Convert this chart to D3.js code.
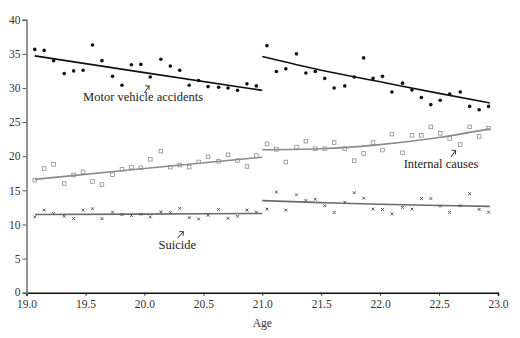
<!DOCTYPE html>
<html><head><meta charset="utf-8">
<script src="https://cdn.jsdelivr.net/npm/d3@7"></script>
<style>body{margin:0;background:#fff}svg{display:block}</style>
</head><body>
<script>
// ---- data ----
const ages1 = [19.07,19.15,19.23,19.32,19.40,19.48,19.56,19.64,19.73,19.81,19.89,19.97,20.05,20.14,20.22,20.30,20.38,20.46,20.54,20.63,20.71,20.79,20.87,20.95];
const ages2 = [21.04,21.12,21.20,21.29,21.37,21.45,21.53,21.61,21.70,21.78,21.86,21.94,22.02,22.10,22.19,22.27,22.35,22.43,22.51,22.59,22.68,22.76,22.84,22.92];

const motor1 = [35.65,35.5,34.0,32.1,32.5,32.6,36.3,34.0,31.7,30.4,33.4,33.45,31.6,34.2,33.2,32.6,30.4,31.1,30.2,30.1,30.0,29.65,30.6,30.3];
const motor2 = [36.2,32.4,32.8,35.0,32.2,32.4,31.4,30.0,30.3,31.6,34.4,31.4,31.7,29.4,30.7,29.7,28.6,27.55,28.2,29.1,29.4,27.3,26.8,27.3];
const internal1 = [16.5,18.2,18.8,16.0,17.25,17.7,16.3,15.85,17.3,18.1,18.4,18.3,19.55,20.75,18.4,18.7,18.4,19.15,19.9,19.25,20.2,19.35,18.5,20.1];
const internal2 = [21.8,21.0,19.15,21.35,22.2,21.1,21.1,22.0,21.1,19.35,20.4,22.0,20.9,23.25,20.5,23.05,23.05,24.3,23.35,22.6,21.7,24.3,22.9,24.1];
const suicide1 = [11.1,12.1,11.6,11.2,10.85,12.1,12.3,10.85,11.8,11.45,11.3,11.5,11.1,11.85,11.75,12.35,11.0,10.8,11.35,12.2,10.9,11.2,12.1,11.8];
const suicide2 = [12.25,14.75,12.1,14.35,13.5,13.7,12.75,11.75,13.25,14.65,13.85,12.25,12.2,11.55,12.5,12.25,13.8,13.8,12.7,11.75,12.75,14.5,12.2,11.8];

// fitted curves, read at a few ages
const fitAges1 = [19.07, 20.0, 21.0];
const motorFit1 = [34.7, 32.25, 29.65];
const internalFit1 = [16.6, 18.2, 19.85];
const suicideFit1 = [11.45, 11.52, 11.6];
const fitAges2 = [21.0, 21.5, 22.0, 22.5, 22.93];
const motorFit2 = [34.6, 32.6, 30.9, 29.2, 27.8];
const internalFit2 = [20.95, 21.1, 21.7, 22.74, 24.0];
const suicideFit2 = [13.5, 13.2, 12.95, 12.78, 12.65];

const xTicks = [19.0,19.5,20.0,20.5,21.0,21.5,22.0,22.5,23.0];
const yTicks = [0,5,10,15,20,25,30,35,40];

const labels = [
  {text:"Motor vehicle accidents", x:19.48, y:28.15, ax:[20.00,29.3], ah:[20.04,30.3]},
  {text:"Internal causes", x:22.20, y:18.3, ax:[22.60,19.85], ah:[22.64,20.85]},
  {text:"Suicide", x:20.12, y:6.45, ax:[20.28,7.95], ah:[20.33,8.95]}
];

// ---- drawing ----
const W = 520, H = 338;
const svg = d3.select("body").append("svg").attr("width", W).attr("height", H);
const x = d3.scaleLinear().domain([19,23]).range([26.5,498]);
const y = d3.scaleLinear().domain([0,40]).range([292.7,19.7]);
const font = "'Liberation Serif', 'DejaVu Serif', serif";

// axes
const xAxis = svg.append("g").attr("transform",`translate(0,${y(0)})`)
  .call(d3.axisBottom(x).tickValues(xTicks).tickFormat(d3.format(".1f")).tickSize(3).tickPadding(4));
xAxis.select(".domain").attr("stroke","#111").attr("stroke-width",1.6);
xAxis.selectAll(".tick line").attr("stroke","#222");
xAxis.selectAll("text").attr("font-family",font).attr("font-size",11.5).attr("fill","#333");

const yAxis = svg.append("g").attr("transform",`translate(${x(19)},0)`)
  .call(d3.axisLeft(y).tickValues(yTicks).tickSize(4).tickPadding(2));
yAxis.select(".domain").attr("stroke","#777").attr("stroke-width",1.6);
yAxis.selectAll(".tick line").attr("stroke","#555");
yAxis.selectAll("text").attr("font-family",font).attr("font-size",11.5).attr("fill","#333");
yAxis.selectAll(".tick").filter(d=>d===0).select("text").attr("dy","0.2em");

svg.append("text").attr("x",x(21)).attr("y",327).attr("text-anchor","middle")
  .attr("font-family",font).attr("font-size",11.5).attr("fill","#333").text("Age");

const line = d3.line().x(d=>x(d[0])).y(d=>y(d[1])).curve(d3.curveMonotoneX);
const zip = (a,b)=>a.map((v,i)=>[v,b[i]]);

// fit lines
const fits = [
  [fitAges1, internalFit1, "#8a8a8a"], [fitAges2, internalFit2, "#8a8a8a"],
  [fitAges1, suicideFit1, "#6a6a6a"], [fitAges2, suicideFit2, "#6a6a6a"],
  [fitAges1, motorFit1, "#111"], [fitAges2, motorFit2, "#111"]
];
fits.forEach(([a,v,c])=>{
  svg.append("path").attr("d", line(zip(a,v))).attr("fill","none").attr("stroke",c).attr("stroke-width",1.6);
});

// internal causes: open squares
[[ages1,internal1],[ages2,internal2]].forEach(([a,v])=>{
  svg.append("g").selectAll("rect").data(zip(a,v)).join("rect")
    .attr("x",d=>x(d[0])-1.8).attr("y",d=>y(d[1])-1.8).attr("width",3.6).attr("height",3.6)
    .attr("fill","none").attr("stroke","#8f8f8f").attr("stroke-width",0.8);
});
// suicide: small x
[[ages1,suicide1],[ages2,suicide2]].forEach(([a,v])=>{
  svg.append("g").selectAll("path").data(zip(a,v)).join("path")
    .attr("d",d=>{const cx=x(d[0]),cy=y(d[1]),s=1.4;return `M${cx-s},${cy-s}L${cx+s},${cy+s}M${cx-s},${cy+s}L${cx+s},${cy-s}`;})
    .attr("stroke","#555").attr("stroke-width",1);
});
// motor: black dots
[[ages1,motor1],[ages2,motor2]].forEach(([a,v])=>{
  svg.append("g").selectAll("circle").data(zip(a,v)).join("circle")
    .attr("cx",d=>x(d[0])).attr("cy",d=>y(d[1])).attr("r",1.8).attr("fill","#111");
});

// labels + arrows
labels.forEach(l=>{
  svg.append("text").attr("x",x(l.x)).attr("y",y(l.y)).attr("font-family",font)
    .attr("font-size",12.5).attr("fill","#222").text(l.text);
  const x0=x(l.ax[0]), y0=y(l.ax[1]), x1=x(l.ah[0]), y1=y(l.ah[1]);
  svg.append("path").attr("d",`M${x0},${y0}L${x1},${y1}M${x1-4},${y1}L${x1},${y1}L${x1},${y1+4}`)
    .attr("fill","none").attr("stroke","#222").attr("stroke-width",0.9);
});
</script>
</body></html>
